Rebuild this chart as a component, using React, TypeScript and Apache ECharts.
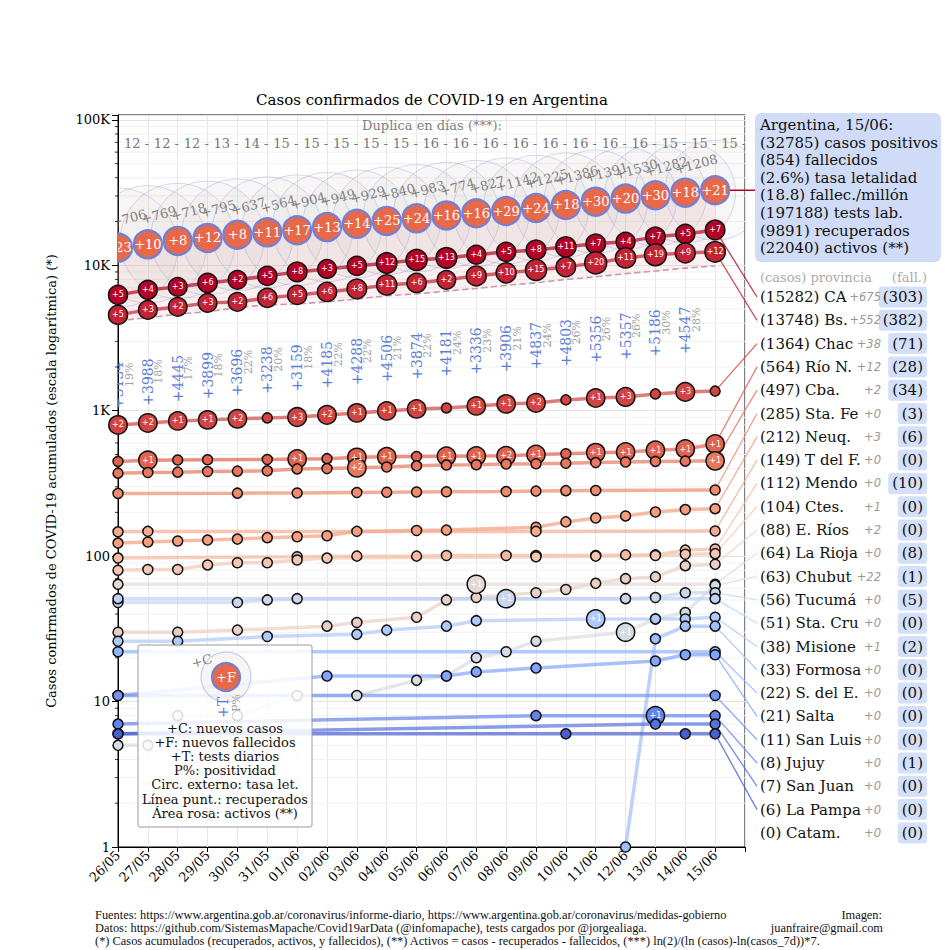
import React, { useEffect, useRef } from "react";
import * as echarts from "echarts";

const _ = null;
const FONT = "DejaVu Serif";

// ---------- data ----------
const DATES = ["26/05","27/05","28/05","29/05","30/05","31/05","01/06","02/06","03/06","04/06","05/06","06/06","07/06","08/06","09/06","10/06","11/06","12/06","13/06","14/06","15/06"];
const DOUBLING_DAYS = [12,12,12,13,14,15,15,15,15,15,16,16,16,16,16,16,16,16,15,15,15];
const ARG_CASES = [13226,13932,14701,15419,16214,16851,17415,18319,19268,20197,21037,22020,22794,23621,24763,25988,27374,28765,30295,31577,32785];
const ARG_NEW_CASES = [599,706,769,718,795,637,564,904,949,929,840,983,774,827,1142,1225,1386,1391,1530,1282,1208];
const ARG_NEW_DEATHS = [23,10,8,12,8,11,17,13,14,25,24,16,16,29,24,18,30,20,30,18,21];
const ARG_DEATHS = [490,500,508,520,528,539,556,569,583,608,632,648,664,693,717,735,765,785,815,833,854];
const ARG_RECOVERED = [4170,4350,4620,4790,5120,5340,5420,5610,5850,6180,6360,6640,6930,7280,7580,7990,8330,8760,9130,9560,9891];
const ARG_TESTS = [3134,3988,4445,3899,3696,3238,3159,4185,4288,4506,3874,4181,3336,3906,4837,4803,5356,5357,5186,4547];
const ARG_POSITIVITY = [19,18,17,18,22,20,18,22,22,21,22,24,23,21,24,26,26,26,30,28];

const Y_TICK_VALUES = [1, 10, 100, 1000, 10000, 100000];
const Y_TICK_LABELS = ["1", "10", "100", "1K", "10K", "100K"];
const MINOR_MULTIPLES = [2, 3, 4, 5, 6, 7, 8, 9];

const ARG_SUMMARY = [
  "Argentina, 15/06:",
  "(32785) casos positivos",
  "(854) fallecidos",
  "(2.6%) tasa letalidad",
  "(18.8) fallec./millón",
  "(197188) tests lab.",
  "(9891) recuperados",
  "(22040) activos (**)",
];

// legend table (right)
const PROV_NAMES = ["CABA","Bs. As.","Chaco","Río N.","Cba.","Sta. Fe","Neuq.","T del F.","Mendoza","Ctes.","E. Ríos","La Rioja","Chubut","Tucumán","Sta. Cruz","Misiones","Formosa","S. del E.","Salta","San Luis","Jujuy","San Juan","La Pampa","Catam."];
const PROV_TOTAL = [15282,13748,1364,564,497,285,212,149,112,104,88,64,63,56,51,38,33,22,21,11,8,7,6,0];
const PROV_NEW_TODAY = [675,552,38,12,2,0,3,0,0,1,2,0,22,0,0,1,0,0,0,0,0,0,0,0];
const PROV_FALL = [303,382,71,28,34,3,6,0,10,0,0,8,1,5,0,2,0,0,0,0,1,0,0,0];

// province cumulative cases per day (null = no point that day)
const CABA_CASES = [6255,6776,7100,7565,7940,8455,9005,9440,9900,10380,10890,11240,11800,12370,12760,13390,14040,14490,15680,16440,17510];
const CABA_NEW_DEATHS = [5,4,3,6,2,5,8,3,5,12,15,13,4,5,8,11,7,4,7,5,7];
const BSAS_CASES = [4560,4935,5175,5515,5600,5970,6255,6560,6885,7330,7565,7940,8455,8875,9295,9750,10380,11240,11800,12170,12370];
const BSAS_NEW_DEATHS = [5,3,2,3,2,6,5,6,8,11,6,2,9,10,15,7,20,11,19,9,12];
const CHACO_CASES = [798,824,851,865,880,892,905,936,966,997,1029,1045,1079,1114,1132,1187,1224,1244,1305,1347,1364];
const CHACO_NEW_DEATHS = [2,2,1,1,2,0,3,2,1,1,1,0,1,1,2,0,1,3,0,3,0];
const RION_CASES = [448,456,458,460,_,462,466,468,478,482,484,486,488,490,500,506,515,520,535,545,590];
const RION_NEW_DEATHS = [0,1,0,0,0,0,1,0,1,1,0,1,1,2,1,0,1,1,1,1,1];
const CBA_CASES = [372,376,378,382,384,386,398,400,405,410,418,423,425,430,432,435,440,444,448,450,452];
const CBA_NEW_DEATHS = [0,0,0,0,0,0,0,0,2,0,0,0,0,0,0,0,0,0,0,0,1];
const STAFE_CASES = [270,_,_,_,271,_,272,_,274,275,276,277,_,278,280,282,283,_,_,_,285];
const NEUQ_CASES = [123,125,127,129,131,134,136,138,148,_,150,151,_,_,158,172,183,189,201,209,212];
const TDF_CASES = [147,148,_,_,_,_,_,_,_,_,_,_,_,_,148,_,_,_,_,_,149];
const MENDOZA_CASES = [97,_,_,_,_,_,99,_,100,_,100,101,_,101,101,_,101,102,102,110,112];
const CTES_CASES = [80,81,81,87,90,90,94,97,_,_,_,_,_,_,99,_,100,_,101,103,104];
const ERIOS_CASES = [30,_,30,_,31,_,_,33,35,_,38,50,52,_,56,59,65,70,72,86,88];
const LARIOJA_CASES = [64,_,_,_,_,_,_,_,_,_,_,_,64,_,_,_,_,_,_,_,64];
const LARIOJA_NEW_DEATHS = [0,0,0,0,0,0,0,0,0,0,0,0,1,0,0,0,0,0,0,0,0];
const CHUBUT_CASES = [5,5,8,_,8,_,11,_,11,_,14,15,20,22,26,_,_,30,37,41,63];
const CHUBUT_NEW_DEATHS = [0,0,0,0,0,0,0,0,0,0,0,0,0,0,0,0,0,1,0,0,0];
const TUCUMAN_CASES = [48,_,_,_,48,50,51,_,_,_,_,_,_,51,_,_,_,51,52,56,56];
const TUCUMAN_NEW_DEATHS = [0,0,0,0,0,0,0,0,0,0,0,0,0,1,0,0,0,0,0,0,0];
const STACRUZ_CASES = [51,_,_,_,_,_,_,_,_,_,_,_,_,_,_,_,_,_,_,_,51];
const MISIONES_CASES = [26,_,26,_,_,28,_,_,29,31,_,33,36,_,_,_,37,_,37,37,38];
const MISIONES_NEW_DEATHS = [0,0,0,0,0,0,0,0,0,0,0,0,0,0,0,0,1,0,0,0,0];
const FORMOSA_CASES = [_,_,_,_,_,_,_,_,_,_,_,_,_,_,_,_,_,1,27,33,33];
const SDELE_CASES = [22,_,_,_,_,_,_,_,_,_,_,_,_,_,_,_,_,_,_,_,22];
const SALTA_CASES = [11,_,_,_,_,_,_,15,_,_,_,15,16,_,17,_,_,_,19,21,21];
const SANLUIS_CASES = [11,_,_,_,_,_,_,_,_,_,_,_,_,_,_,_,_,_,_,_,11];
const JUJUY_CASES = [7,_,_,_,_,_,_,_,_,_,_,_,_,_,8,_,_,_,8,_,8];
const JUJUY_NEW_DEATHS = [0,0,0,0,0,0,0,0,0,0,0,0,0,0,0,0,0,0,1,0,0];
const SANJUAN_CASES = [6,_,_,_,_,_,_,_,_,_,_,_,_,_,_,_,_,_,7,_,7];
const LAPAMPA_CASES = [6,_,_,_,_,_,_,_,_,_,_,_,_,_,_,6,_,_,_,6,6];
const CATAM_CASES = [_,_,_,_,_,_,_,_,_,_,_,_,_,_,_,_,_,_,_,_,_];

const PROV_SERIES: any[] = [
  [CABA_CASES, CABA_NEW_DEATHS],
  [BSAS_CASES, BSAS_NEW_DEATHS],
  [CHACO_CASES, CHACO_NEW_DEATHS],
  [RION_CASES, RION_NEW_DEATHS],
  [CBA_CASES, CBA_NEW_DEATHS],
  [STAFE_CASES, null],
  [NEUQ_CASES, null],
  [TDF_CASES, null],
  [MENDOZA_CASES, null],
  [CTES_CASES, null],
  [ERIOS_CASES, null],
  [LARIOJA_CASES, LARIOJA_NEW_DEATHS],
  [CHUBUT_CASES, CHUBUT_NEW_DEATHS],
  [TUCUMAN_CASES, TUCUMAN_NEW_DEATHS],
  [STACRUZ_CASES, null],
  [MISIONES_CASES, MISIONES_NEW_DEATHS],
  [FORMOSA_CASES, null],
  [SDELE_CASES, null],
  [SALTA_CASES, null],
  [SANLUIS_CASES, null],
  [JUJUY_CASES, JUJUY_NEW_DEATHS],
  [SANJUAN_CASES, null],
  [LAPAMPA_CASES, null],
  [CATAM_CASES, null],
];

const INSET_LINES = [
  "+C: nuevos casos",
  "+F: nuevos fallecidos",
  "+T: tests diarios",
  "P%: positividad",
  "Circ. externo: tasa let.",
  "Línea punt.: recuperados",
  "Área rosa: activos (**)",
];

const FOOTER_LINES = [
  "Fuentes: https://www.argentina.gob.ar/coronavirus/informe-diario, https://www.argentina.gob.ar/coronavirus/medidas-gobierno",
  "Datos: https://github.com/SistemasMapache/Covid19arData (@infomapache), tests cargados por @jorgealiaga.",
  "(*) Casos acumulados (recuperados, activos, y fallecidos), (**) Activos = casos - recuperados - fallecidos, (***) ln(2)/(ln (casos)-ln(casos_7d))*7.",
];

// ---------- helpers ----------
const CW_STOPS = [[59,76,192],[98,130,234],[141,176,254],[184,208,249],[221,221,221],[245,196,173],[244,154,123],[222,96,77],[180,4,38]];
function coolwarm(t: number): string {
  const p = Math.max(0, Math.min(1, t)) * (CW_STOPS.length - 1);
  const i = Math.min(Math.floor(p), CW_STOPS.length - 2);
  const f = p - i;
  const c = CW_STOPS[i].map((v, k) => Math.round(v + (CW_STOPS[i + 1][k] - v) * f));
  return `rgb(${c[0]},${c[1]},${c[2]})`;
}
const provColor = (i: number) => coolwarm(1 - i / (PROV_NAMES.length - 1));
const rowY = (i: number) => 297 + 23.3 * i;

let measureCtx: CanvasRenderingContext2D | null = null;
function textWidth(text: string, font: string): number {
  if (!measureCtx) measureCtx = document.createElement("canvas").getContext("2d");
  if (!measureCtx) return text.length * 7;
  measureCtx.font = font;
  return measureCtx.measureText(text).width;
}
// longest prefix of the label that fits before the "+N" text (the reference cuts names there)
function fitPrefix(text: string, font: string, maxW: number): string {
  let s = text;
  while (s.length > 1 && textWidth(s, font) > maxW) s = s.slice(0, -1);
  return s;
}

function buildOption() {
  const series: any[] = [];

  // minor log grid + ticks
  series.push({
    type: "custom", z: 0, silent: true, clip: false,
    data: [[0, 1]],
    renderItem: (_p: any, api: any) => {
      const children: any[] = [];
      for (let k = 0; k < Y_TICK_VALUES.length - 1; k++) {
        for (const m of MINOR_MULTIPLES) {
          const v = m * Y_TICK_VALUES[k];
          const a = api.coord([0, v]);
          const b = api.coord([21, v]);
          children.push({ type: "line", shape: { x1: a[0], y1: a[1], x2: b[0], y2: b[1] }, style: { stroke: "#f1f1f1", lineWidth: 1 } });
          children.push({ type: "line", shape: { x1: a[0] - 3, y1: a[1], x2: a[0], y2: a[1] }, style: { stroke: "#000", lineWidth: 0.8 } });
        }
      }
      return { type: "group", children };
    },
  });

  // active (pink) area between recovered and cases
  series.push({
    type: "custom", z: 1, silent: true, clip: true,
    data: [[0, 1]],
    renderItem: (_p: any, api: any) => {
      const top = ARG_CASES.map((v, i) => api.coord([i, v]));
      const bot = ARG_RECOVERED.map((v, i) => api.coord([i, v])).reverse();
      return { type: "polygon", shape: { points: top.concat(bot) }, style: { fill: "rgba(235,160,165,0.16)" } };
    },
  });

  // outer circles (lethality)
  series.push({
    type: "custom", z: 1, silent: true, clip: true,
    data: ARG_CASES.map((v, i) => [i, v, ARG_DEATHS[i]]),
    renderItem: (_p: any, api: any) => {
      const c = api.coord([api.value(0), api.value(1)]);
      const r = 31 * Math.sqrt((100 * api.value(2)) / api.value(1));
      return { type: "circle", shape: { cx: c[0], cy: c[1], r }, style: { fill: "rgba(200,185,185,0.07)", stroke: "rgba(140,150,205,0.35)", lineWidth: 1 } };
    },
  });

  // recovered dashed line
  series.push({
    type: "line", z: 2, silent: true, symbol: "none",
    data: ARG_RECOVERED.map((v, i) => [i, v]),
    lineStyle: { type: "dashed", color: "#c99aae", width: 1.6 },
  });

  // province lines
  PROV_SERIES.forEach(([cases, deaths]: any, pi: number) => {
    const col = provColor(pi);
    const data: any[] = [];
    cases.forEach((v: any, i: number) => {
      if (v != null) data.push([i, v, deaths ? deaths[i] : 0]);
    });
    if (!data.length) return;
    series.push({
      type: "line", z: 3, name: PROV_NAMES[pi], silent: true,
      data,
      symbol: "circle",
      symbolSize: (val: any) => (val[2] > 0 ? 18 + Math.min(val[2], 20) * 0.2 : 10),
      lineStyle: { color: col, width: 3.5, opacity: 0.7 },
      itemStyle: { color: col, borderColor: "#111", borderWidth: 1.5 },
      label: {
        show: true, position: "inside", fontSize: 8, color: "#fff", fontFamily: "DejaVu Sans",
        formatter: (p: any) => (p.value[2] > 0 ? "+" + p.value[2] : ""),
      },
    });
  });

  // connectors to the right table
  series.push({
    type: "custom", z: 2, silent: true, clip: false,
    data: PROV_SERIES.map((_s: any, i: number) => [i, 1]),
    renderItem: (p: any, api: any) => {
      const i = p.dataIndex;
      const cases = PROV_SERIES[i][0];
      let last = -1;
      cases.forEach((v: any, k: number) => { if (v != null) last = k; });
      if (last < 0) return { type: "group", children: [] };
      const a = api.coord([last, cases[last]]);
      return { type: "line", shape: { x1: a[0], y1: a[1], x2: 757, y2: rowY(i) }, style: { stroke: provColor(i), lineWidth: 1.3, opacity: 0.8 } };
    },
  });
  // argentina connector
  series.push({
    type: "custom", z: 2, silent: true, clip: false,
    data: [[20, ARG_CASES[20]]],
    renderItem: (_p: any, api: any) => {
      const a = api.coord([api.value(0), api.value(1)]);
      return { type: "line", shape: { x1: a[0], y1: a[1], x2: 755, y2: a[1] }, style: { stroke: "#b40426", lineWidth: 1.5 } };
    },
  });

  // Argentina circles
  series.push({
    type: "custom", z: 5, silent: true, clip: true,
    data: ARG_CASES.map((v, i) => [i, v, ARG_NEW_DEATHS[i]]),
    renderItem: (_p: any, api: any) => {
      const c = api.coord([api.value(0), api.value(1)]);
      return {
        type: "group",
        children: [
          { type: "circle", shape: { cx: c[0], cy: c[1], r: 14 }, style: { fill: "#e8694a", stroke: "#6f80d8", lineWidth: 2.2 } },
          { type: "text", x: c[0], y: c[1], style: { text: "+" + api.value(2), fill: "#fff", font: `13px ${FONT}`, align: "center", verticalAlign: "middle" } },
        ],
      };
    },
  });

  // +C new cases labels
  series.push({
    type: "custom", z: 6, silent: true, clip: true,
    data: ARG_CASES.map((v, i) => [i, v, ARG_NEW_CASES[i]]),
    renderItem: (_p: any, api: any) => {
      const c = api.coord([api.value(0), api.value(1)]);
      return {
        type: "text", x: c[0] - 19, y: c[1] - 26, rotation: (15 * Math.PI) / 180,
        style: { text: "+" + api.value(2), fill: "#808080", font: `13px ${FONT}`, align: "center", verticalAlign: "middle" },
      };
    },
  });

  // tests + positivity labels
  series.push({
    type: "custom", z: 6, silent: true, clip: true,
    data: ARG_TESTS.map((t, i) => [i, ARG_CASES[i], t, ARG_POSITIVITY[i]]),
    renderItem: (_p: any, api: any) => {
      const c = api.coord([api.value(0), api.value(1)]);
      return {
        type: "group",
        children: [
          { type: "text", x: c[0], y: c[1] + 114, rotation: Math.PI / 2, style: { text: "+" + api.value(2), fill: "#5a7ed8", font: `14px ${FONT}`, align: "right", verticalAlign: "middle" } },
          { type: "text", x: c[0] + 11, y: c[1] + 115, rotation: Math.PI / 2, style: { text: api.value(3) + "%", fill: "#a0a0a0", font: `11px ${FONT}`, align: "right", verticalAlign: "middle" } },
        ],
      };
    },
  });

  // doubling days row
  series.push({
    type: "custom", z: 6, silent: true, clip: true,
    data: DOUBLING_DAYS.map((d, i) => [i, 1000, d]),
    renderItem: (_p: any, api: any) => {
      const c = api.coord([api.value(0), api.value(1)]);
      return { type: "text", x: c[0] + 6, y: 143, style: { text: api.value(2) + " -", fill: "#777", font: `13px ${FONT}`, align: "left", verticalAlign: "middle" } };
    },
  });

  // ---------- graphics ----------
  const g: any[] = [];
  g.push({ type: "text", x: 432, y: 100, style: { text: "Casos confirmados de COVID-19 en Argentina", font: `15px ${FONT}`, fill: "#000", align: "center", verticalAlign: "middle" } });
  g.push({ type: "text", x: 432, y: 125, z: 10, style: { text: "Duplica en días (***):", font: `13px ${FONT}`, fill: "#808080", align: "center", verticalAlign: "middle" } });

  // Argentina summary box
  g.push({ type: "rect", shape: { x: 755, y: 113, width: 186, height: 149, r: 6 }, style: { fill: "#d0dcf7" } });
  ARG_SUMMARY.forEach((t, i) => {
    g.push({ type: "text", x: 760, y: 125 + 17.6 * i, style: { text: t, font: `15px ${FONT}`, fill: "#111", align: "left", verticalAlign: "middle" } });
  });

  // province table
  const NEW_FONT = "italic 11.5px DejaVu Sans";
  const NAME_FONT = `15px ${FONT}`;
  const NEW_RIGHT = 881;
  g.push({ type: "text", x: 760, y: 277, style: { text: "(casos) provincia", font: `13px ${FONT}`, fill: "#aaa", align: "left", verticalAlign: "middle" } });
  g.push({ type: "text", x: 927, y: 277, style: { text: "(fall.)", font: `13px ${FONT}`, fill: "#aaa", align: "right", verticalAlign: "middle" } });
  PROV_NAMES.forEach((name, i) => {
    const y = rowY(i);
    const newTxt = "+" + PROV_NEW_TODAY[i];
    const wNew = textWidth(newTxt, NEW_FONT);
    const label = fitPrefix(`(${PROV_TOTAL[i]}) ${name}`, NAME_FONT, NEW_RIGHT - wNew - 1.5 - 760);
    g.push({ type: "text", x: 760, y, style: { text: label, font: NAME_FONT, fill: "#111", align: "left", verticalAlign: "middle" } });
    g.push({ type: "text", x: NEW_RIGHT, y, z: 5, style: { text: newTxt, font: NEW_FONT, fill: "#999", align: "right", verticalAlign: "middle" } });
    g.push({ type: "text", x: 927, y, z: 4, style: { text: `(${PROV_FALL[i]})`, font: NAME_FONT, fill: "#111", align: "right", verticalAlign: "middle", backgroundColor: "#d4e0f9", padding: [3, 4, 3, 4], borderRadius: 3 } });
  });

  // inset legend
  g.push({ type: "rect", z: 20, shape: { x: 138, y: 645, width: 174, height: 182, r: 2 }, style: { fill: "rgba(255,255,255,0.85)", stroke: "#9a9a9a", lineWidth: 1 } });
  g.push({ type: "circle", z: 21, shape: { cx: 226, cy: 677, r: 25 }, style: { fill: "rgba(225,220,225,0.25)", stroke: "rgba(150,160,210,0.5)", lineWidth: 1.2 } });
  g.push({ type: "circle", z: 22, shape: { cx: 226, cy: 677, r: 14 }, style: { fill: "#e8694a", stroke: "#6f80d8", lineWidth: 2.2 } });
  g.push({ type: "text", z: 23, x: 226, y: 677, style: { text: "+F", font: `13px ${FONT}`, fill: "#fff", align: "center", verticalAlign: "middle" } });
  g.push({ type: "text", z: 23, x: 202, y: 661, rotation: (15 * Math.PI) / 180, style: { text: "+C", font: `13px ${FONT}`, fill: "#808080", align: "center", verticalAlign: "middle" } });
  g.push({ type: "text", z: 23, x: 223, y: 697, rotation: Math.PI / 2, style: { text: "+T", font: `14px ${FONT}`, fill: "#5a7ed8", align: "right", verticalAlign: "middle" } });
  g.push({ type: "text", z: 23, x: 236, y: 694, rotation: Math.PI / 2, style: { text: "P%", font: `11px ${FONT}`, fill: "#a0a0a0", align: "right", verticalAlign: "middle" } });
  INSET_LINES.forEach((t, i) => {
    g.push({ type: "text", z: 23, x: 225, y: 728 + 14.2 * i, style: { text: t, font: `13px ${FONT}`, fill: "#111", align: "center", verticalAlign: "middle" } });
  });

  // footer
  const FOOT_FONT = "12.4px Liberation Serif";
  FOOTER_LINES.forEach((t, i) => {
    g.push({ type: "text", x: 95, y: 915 + 12.8 * i, style: { text: t, font: FOOT_FONT, fill: "#111", align: "left", verticalAlign: "middle" } });
  });
  g.push({ type: "text", x: 882, y: 915, style: { text: "Imagen:", font: FOOT_FONT, fill: "#111", align: "right", verticalAlign: "middle" } });
  g.push({ type: "text", x: 883, y: 927.8, style: { text: "juanfraire@gmail.com", font: FOOT_FONT, fill: "#111", align: "right", verticalAlign: "middle" } });

  return {
    animation: false,
    backgroundColor: "#fff",
    textStyle: { fontFamily: FONT },
    grid: { left: 118, right: 205, top: 115, bottom: 103, show: true, borderColor: "#000", borderWidth: 1, backgroundColor: "transparent" },
    xAxis: {
      type: "value", min: 0, max: 21, interval: 1,
      axisLine: { show: true, lineStyle: { color: "#000" } },
      axisTick: { show: true, length: 5, lineStyle: { color: "#000" } },
      axisLabel: { rotate: 45, fontSize: 13, color: "#000", fontFamily: FONT, margin: 6, formatter: (v: number) => DATES[v] ?? "" },
      splitLine: { show: true, lineStyle: { color: "#e6e6e6" } },
    },
    yAxis: {
      type: "log", logBase: 10, min: 1, max: 108000,
      name: "Casos confirmados de COVID-19 acumulados (escala logarítmica) (*)",
      nameLocation: "middle", nameGap: 60, nameRotate: 90,
      nameTextStyle: { fontSize: 13, color: "#000", fontFamily: FONT },
      axisLine: { show: true, lineStyle: { color: "#000" } },
      axisTick: { show: true, length: 6, lineStyle: { color: "#000" } },
      axisLabel: {
        fontSize: 13, color: "#000", fontFamily: FONT, margin: 8,
        formatter: (v: number) => {
          const k = Y_TICK_VALUES.findIndex((t) => Math.abs(t - v) / t < 1e-6);
          return k >= 0 ? Y_TICK_LABELS[k] : "";
        },
      },
      splitLine: { show: true, lineStyle: { color: "#e3e3e3" } },
    },
    series,
    graphic: { elements: g },
  };
}

export default function App() {
  const ref = useRef<HTMLDivElement>(null);
  useEffect(() => {
    const chart = echarts.init(ref.current as HTMLDivElement, null, { renderer: "svg" });
    chart.setOption(buildOption() as any);
    return () => chart.dispose();
  }, []);
  return <div ref={ref} style={{ position: "absolute", left: 0, top: 0, width: 950, height: 950, background: "#fff" }} />;
}
